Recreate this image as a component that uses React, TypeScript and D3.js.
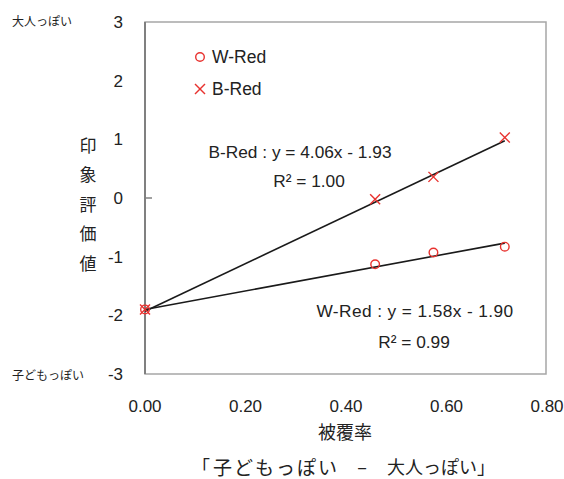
import React from "react";
import { scaleLinear, line } from "d3";

const xTicks = [0, 0.2, 0.4, 0.6, 0.8];
const yTicks = [3, 2, 1, 0, -1, -2, -3];
const coverage = [0, 0.458, 0.574, 0.716];
const wRed = [-1.9, -1.13, -0.93, -0.83];
const bRed = [-1.9, -0.02, 0.36, 1.03];
const wFit = { slope: 1.58, icept: -1.9 };
const bFit = { slope: 4.06, icept: -1.93 };
const yLabel = ["印", "象", "評", "価", "値"];

const RED = "#e8322f";
const FONT = "'Liberation Sans', Arial, sans-serif";
const JP = "'Noto Sans CJK JP', sans-serif";

const App = () => {
  const width = 564;
  const height = 479;
  const left = 145;
  const right = 547;
  const top = 22;
  const bottom = 374;

  // scales
  const x = scaleLinear().domain([0, 0.8]).range([left, right]);
  const y = scaleLinear().domain([-3, 3]).range([bottom, top]);

  const fitLine = (f) =>
    line<number>()
      .x((d) => x(d))
      .y((d) => y(f.slope * d + f.icept))([0, coverage[3]]);

  const cross = (cx, cy, key) => (
    <g key={key} stroke={RED} strokeWidth={1.4}>
      <line x1={cx - 5} y1={cy - 5} x2={cx + 5} y2={cy + 5} />
      <line x1={cx - 5} y1={cy + 5} x2={cx + 5} y2={cy - 5} />
    </g>
  );

  return (
    <svg
      width={width}
      height={height}
      style={{ position: "absolute", left: 0, top: 0, background: "#fff" }}
    >
      {/* plot border */}
      <rect x={left} y={top} width={right - left - 1} height={bottom - top} fill="none" stroke="#a6a6a6" strokeWidth={1.5} />
      <line x1={left} x2={left} y1={top} y2={bottom} stroke="#808080" strokeWidth={2} />
      <line x1={left} x2={left + 7} y1={y(0)} y2={y(0)} stroke="#808080" strokeWidth={1.5} />

      {/* trend lines */}
      <path d={fitLine(bFit)} stroke="#1a1a1a" strokeWidth={1.6} fill="none" />
      <path d={fitLine(wFit)} stroke="#1a1a1a" strokeWidth={1.6} fill="none" />

      {/* points */}
      {coverage.map((c, i) => (
        <circle key={"w" + i} cx={x(c)} cy={y(wRed[i])} r={4.3} fill="none" stroke={RED} strokeWidth={1.4} />
      ))}
      {coverage.map((c, i) => cross(x(c), y(bRed[i]), "b" + i))}

      {/* y tick labels */}
      {yTicks.map((t) => (
        <text key={t} x={123} y={y(t)} dy="0.35em" textAnchor="end" fontSize={17} fontFamily={FONT} fill="#222">
          {t}
        </text>
      ))}
      <text x={12} y={y(3)} dy="0.35em" fontSize={12} fontFamily={JP} fill="#222">大人っぽい</text>
      <text x={12} y={y(-3) + 2} dy="0.35em" fontSize={12} fontFamily={JP} fill="#222">子どもっぽい</text>

      {/* x tick labels */}
      {xTicks.map((t) => (
        <text key={t} x={x(t)} y={406} dy="0.35em" textAnchor="middle" fontSize={17} fontFamily={FONT} fill="#222">
          {t.toFixed(2)}
        </text>
      ))}
      <text x={345} y={433} dy="0.35em" textAnchor="middle" fontSize={18} fontFamily={JP} fill="#222">被覆率</text>
      <text x={192} y={468} dy="0.35em" fontSize={18} fontFamily={JP} fill="#222">「</text>
      <text x={213} y={468} dy="0.35em" fontSize={19} letterSpacing={2} fontFamily={JP} fill="#222">子どもっぽい</text>
      <text x={362} y={468} dy="0.35em" textAnchor="middle" fontSize={18} fontFamily={JP} fill="#222">–</text>
      <text x={387} y={468} dy="0.35em" fontSize={18} fontFamily={JP} fill="#222">大人っぽい」</text>

      {/* y axis label */}
      {yLabel.map((c, i) => (
        <text key={c} x={88} y={146 + i * 29.5} dy="0.35em" textAnchor="middle" fontSize={17} fontFamily={JP} fill="#222">
          {c}
        </text>
      ))}

      {/* legend */}
      <circle cx={200} cy={57} r={4.3} fill="none" stroke={RED} strokeWidth={1.4} />
      <text x={212} y={57} dy="0.35em" fontSize={17.5} fontFamily={FONT} fill="#222">W-Red</text>
      {cross(200, 89, "leg")}
      <text x={212} y={89} dy="0.35em" fontSize={17.5} fontFamily={FONT} fill="#222">B-Red</text>

      {/* equations */}
      <text x={300} y={152} dy="0.35em" textAnchor="middle" fontSize={17.3} fontFamily={FONT} fill="#222">
        B-Red : y = 4.06x - 1.93
      </text>
      <text x={309} y={181} dy="0.35em" textAnchor="middle" fontSize={17.3} fontFamily={FONT} fill="#222">
        R² = 1.00
      </text>
      <text x={415} y={311} dy="0.35em" textAnchor="middle" fontSize={17.3} letterSpacing={0.4} fontFamily={FONT} fill="#222">
        W-Red : y = 1.58x - 1.90
      </text>
      <text x={414} y={342} dy="0.35em" textAnchor="middle" fontSize={17.3} fontFamily={FONT} fill="#222">
        R² = 0.99
      </text>
    </svg>
  );
};

export default App;
